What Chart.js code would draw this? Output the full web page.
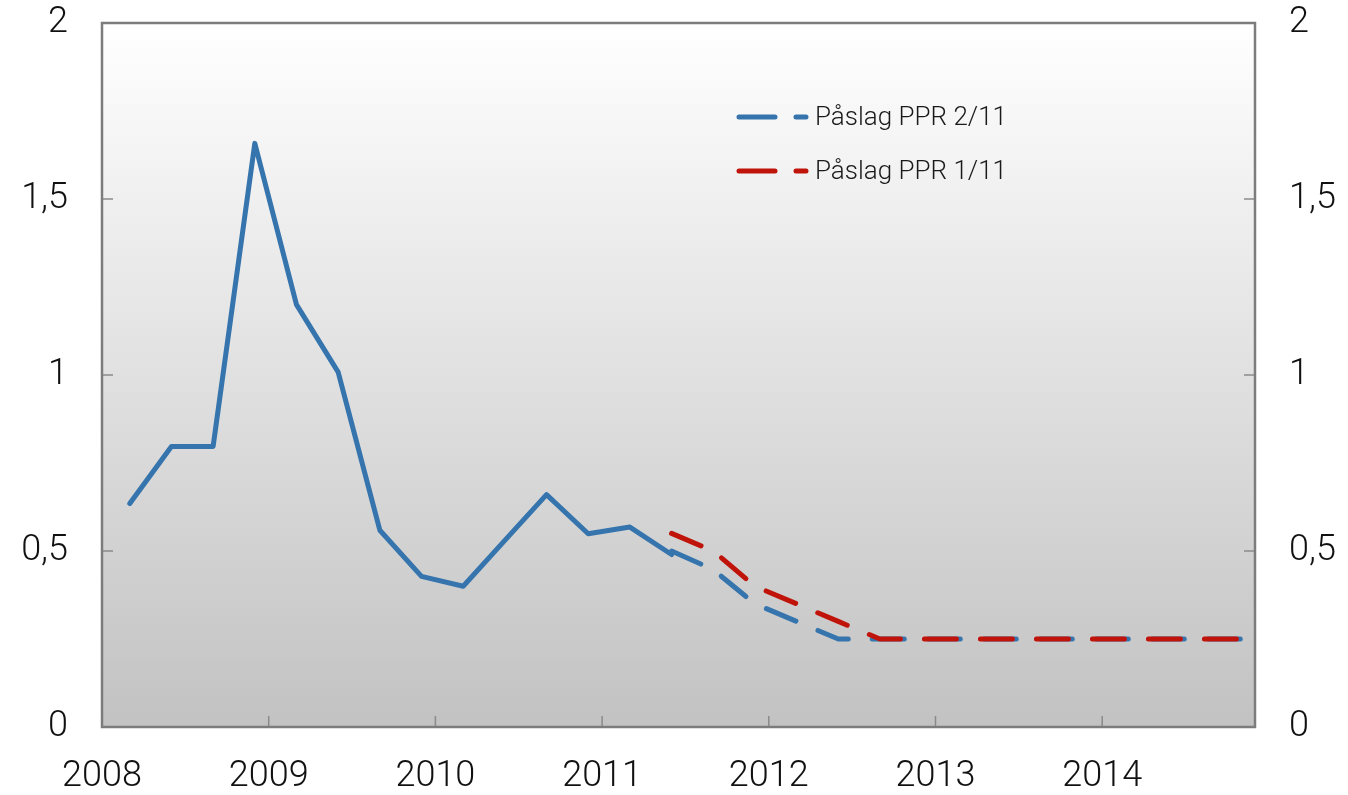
<!DOCTYPE html>
<html><head><meta charset="utf-8">
<script src="https://cdn.jsdelivr.net/npm/chart.js@4.4.1/dist/chart.umd.min.js"></script>
<style>html,body{margin:0;padding:0;background:#fff;}#wrap{width:1348px;height:795px;}</style>
</head><body><div id="wrap"><canvas id="c" width="1348" height="795"></canvas></div>
<script>
// Quarters (Norwegian "K" = kvartal)
const quarters = ['2008K1','2008K2','2008K3','2008K4','2009K1','2009K2','2009K3','2009K4',
  '2010K1','2010K2','2010K3','2010K4','2011K1','2011K2','2011K3','2011K4',
  '2012K1','2012K2','2012K3','2012K4','2013K1','2013K2','2013K3','2013K4',
  '2014K1','2014K2','2014K3','2014K4'];
// Actual spread 2008K1 - 2011K2
const actualQuarters = quarters.slice(0, 14);
const actualValues = [0.635, 0.797, 0.797, 1.658, 1.20, 1.008, 0.559, 0.428, 0.40, 0.53, 0.66, 0.549, 0.568, 0.49];
// Projections 2011K2 - 2014K4
const projQuarters = quarters.slice(13);
const ppr211Values = [0.50, 0.447, 0.35, 0.30, 0.25, 0.25, 0.25, 0.25, 0.25, 0.25, 0.25, 0.25, 0.25, 0.25, 0.25];
const ppr111Values = [0.55, 0.50, 0.40, 0.35, 0.30, 0.25, 0.25, 0.25, 0.25, 0.25, 0.25, 0.25, 0.25, 0.25, 0.25];
const yearTicks = [2008, 2009, 2010, 2011, 2012, 2013, 2014];
const yTicks = [0, 0.5, 1, 1.5, 2];
const legendLabels = ['Påslag PPR 2/11', 'Påslag PPR 1/11'];

const BLUE = '#3574ad', RED = '#c0140a';
const FONT = "Roboto, 'Liberation Sans', Arial, sans-serif";

function qx(q){ const y = +q.slice(0,4), k = +q.slice(5); return y + (3*(k-1)+2)/12; }
function pts(qs, vals){ return qs.map((q,i)=>({x:qx(q), y:vals[i]})); }

const framePlugin = {
  id: 'frame',
  beforeDatasetsDraw(chart){
    const {ctx, chartArea:a} = chart;
    const g = ctx.createLinearGradient(0, a.top, 0, a.bottom);
    g.addColorStop(0, '#ffffff'); g.addColorStop(1, '#c2c2c2');
    ctx.save(); ctx.fillStyle = g; ctx.fillRect(a.left, a.top, a.right-a.left, a.bottom-a.top); ctx.restore();
  },
  afterDatasetsDraw(chart){
    const {ctx, chartArea:a, scales} = chart;
    ctx.save();
    ctx.strokeStyle = '#8a8a8a'; ctx.lineWidth = 1.5;
    ctx.beginPath();
    yearTicks.forEach(v=>{ const px = scales.x.getPixelForValue(v); if (px > a.left+2 && px < a.right-2){ ctx.moveTo(px, a.bottom); ctx.lineTo(px, a.bottom-11);} });
    yTicks.forEach(v=>{ const py = scales.y.getPixelForValue(v); if (py > a.top+2 && py < a.bottom-2){ ctx.moveTo(a.left, py); ctx.lineTo(a.left+11, py); ctx.moveTo(a.right, py); ctx.lineTo(a.right-11, py);} });
    ctx.stroke();
    ctx.strokeStyle = '#7c7c7c'; ctx.lineWidth = 2.5;
    ctx.strokeRect(a.left, a.top, a.right-a.left, a.bottom-a.top);
    // legend
    const colors = [BLUE, RED];
    const lx = a.left + 635, ly0 = a.top + 94, dy = 54;
    ctx.lineCap = 'round'; ctx.lineWidth = 5;
    legendLabels.forEach((t,i)=>{
      const y = ly0 + i*dy;
      ctx.strokeStyle = colors[i];
      ctx.beginPath(); ctx.moveTo(lx+2, y); ctx.lineTo(lx+38, y); ctx.moveTo(lx+59, y); ctx.lineTo(lx+69, y); ctx.stroke();
      ctx.fillStyle = '#1a1a1a'; ctx.font = "300 26px " + FONT; ctx.textBaseline = 'middle'; ctx.textAlign = 'left';
      ctx.fillText(t, lx + 78, y + 1);
    });
    ctx.restore();
  }
};

const tickFont = {family: FONT, size: 36, weight: 300};
const yAxisCommon = {
  min: 0, max: 2,
  afterBuildTicks: s => { s.ticks = yTicks.map(v=>({value:v})); },
  ticks: {font: tickFont, color: '#111', padding: 0, callback: v => String(v).replace('.', ',')},
  grid: {display: false, drawTicks: true, tickLength: 34}, border: {display: false}
};
new Chart(document.getElementById('c'), {
  type: 'line',
  data: {
    datasets: [
      {label: legendLabels[1], data: pts(projQuarters, ppr111Values), borderColor: RED, borderWidth: 5, borderDash: [32, 24], borderCapStyle: 'round', borderJoinStyle: 'round', pointRadius: 0, tension: 0, order: 0},
      {label: legendLabels[0], data: pts(projQuarters, ppr211Values), borderColor: BLUE, borderWidth: 5, borderDash: [32, 24], borderCapStyle: 'round', borderJoinStyle: 'round', pointRadius: 0, tension: 0, order: 1},
      {label: 'Faktisk', data: pts(actualQuarters, actualValues), borderColor: BLUE, borderWidth: 5, borderCapStyle: 'round', borderJoinStyle: 'round', pointRadius: 0, tension: 0, order: 2}
    ]
  },
  options: {
    responsive: false, animation: false, devicePixelRatio: 1,
    layout: {padding: {top: 23, left: 0, right: 0, bottom: 0}},
    plugins: {legend: {display: false}, tooltip: {enabled: false}},
    scales: {
      x: {type: 'linear', min: 2008, max: qx('2014K4'),
        afterBuildTicks: s => { s.ticks = yearTicks.map(v=>({value:v})); },
        afterFit: s => { s.height = 68; },
        ticks: {font: tickFont, color: '#111', padding: 28, maxRotation: 0, autoSkip: false, callback: v => String(v)},
        grid: {display: false, drawTicks: false}, border: {display: false}},
      y: Object.assign({position: 'left', afterFit: s => { s.width = 102; }}, yAxisCommon),
      y2: Object.assign({position: 'right', afterFit: s => { s.width = 93; }}, yAxisCommon)
    }
  },
  plugins: [framePlugin]
});
</script></body></html>
